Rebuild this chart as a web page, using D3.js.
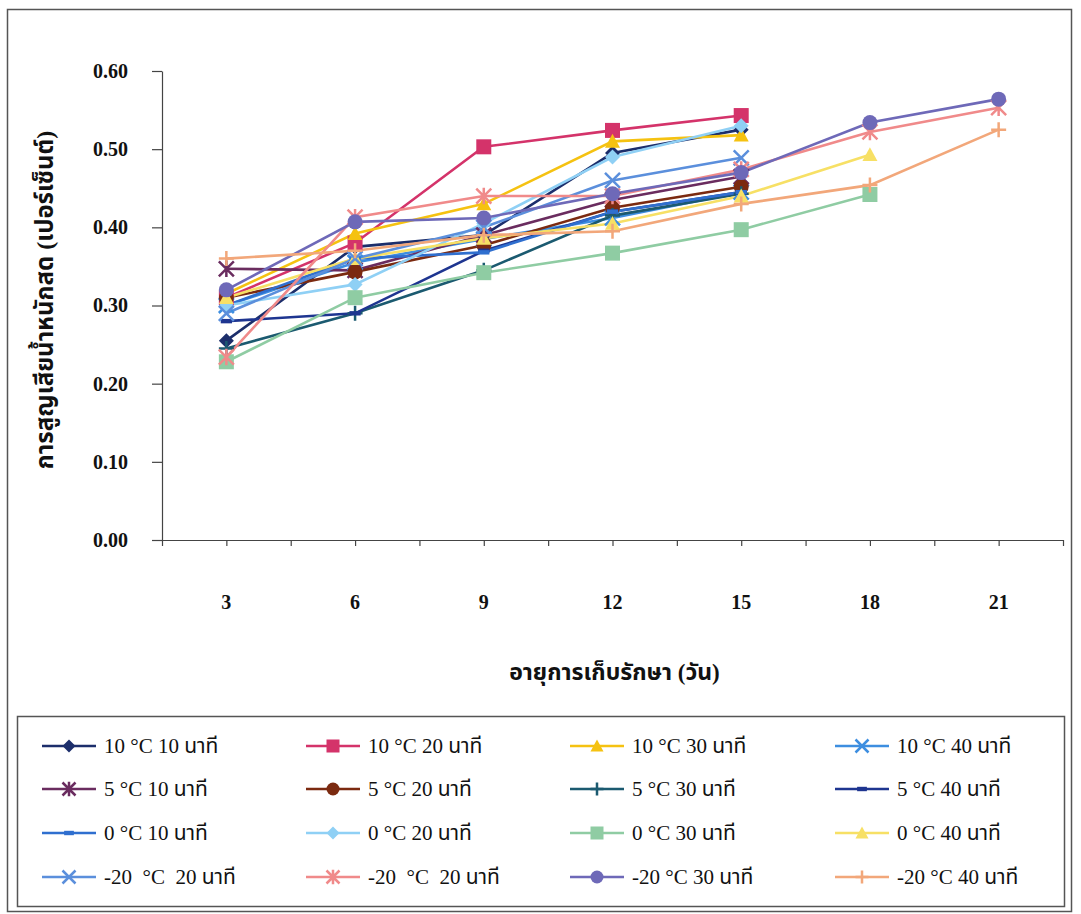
<!DOCTYPE html>
<html>
<head>
<meta charset="utf-8">
<script src="https://cdn.jsdelivr.net/npm/d3@7"></script>
<style>
  html, body { margin: 0; padding: 0; background: #ffffff; }
  svg { display: block; }
  text { font-family: "Liberation Serif", "Noto Sans Thai", "DejaVu Sans", serif; fill: #111; white-space: pre; }
</style>
</head>
<body>
<svg id="chart" width="1081" height="914"></svg>
<script>
// Storage days (categories on the x axis)
const days = ["3", "6", "9", "12", "15", "18", "21"];

// Series names as shown in the legend
const seriesNames = [
  "10 °C 10 นาที", "10 °C 20 นาที", "10 °C 30 นาที", "10 °C 40 นาที",
  "5 °C 10 นาที", "5 °C 20 นาที", "5 °C 30 นาที", "5 °C 40 นาที",
  "0 °C 10 นาที", "0 °C 20 นาที", "0 °C 30 นาที", "0 °C 40 นาที",
  "-20  °C  20 นาที", "-20  °C  20 นาที", "-20 °C 30 นาที", "-20 °C 40 นาที"
];

// Fresh weight loss (%) per series, one value per storage day
const s10c10 = [0.255, 0.375, 0.390, 0.495, 0.525];
const s10c20 = [0.310, 0.380, 0.503, 0.524, 0.543];
const s10c30 = [0.315, 0.392, 0.430, 0.510, 0.518];
const s10c40 = [0.300, 0.355, 0.385, 0.412, 0.445];
const s5c10  = [0.347, 0.345, 0.390, 0.435, 0.465];
const s5c20  = [0.310, 0.343, 0.377, 0.425, 0.452];
const s5c30  = [0.245, 0.290, 0.345, 0.415, 0.443];
const s5c40  = [0.280, 0.290, 0.370, 0.420, 0.445];
const s0c10  = [0.300, 0.360, 0.368, 0.420, 0.445];
const s0c20  = [0.300, 0.327, 0.405, 0.490, 0.530];
const s0c30  = [0.228, 0.310, 0.342, 0.367, 0.397, 0.442];
const s0c40  = [0.310, 0.360, 0.386, 0.405, 0.440, 0.493];
const sm20c20a = [0.290, 0.360, 0.400, 0.460, 0.489];
const sm20c20b = [0.234, 0.413, 0.440, 0.440, 0.474, 0.522, 0.553];
const sm20c30  = [0.320, 0.407, 0.412, 0.443, 0.470, 0.534, 0.564];
const sm20c40  = [0.360, 0.370, 0.390, 0.395, 0.430, 0.454, 0.525];

const seriesValues = [s10c10, s10c20, s10c30, s10c40, s5c10, s5c20, s5c30, s5c40,
                      s0c10, s0c20, s0c30, s0c40, sm20c20a, sm20c20b, sm20c30, sm20c40];

const seriesColors = [
  "#1c2e6b", "#d4336a", "#f5c211", "#3d8ee0",
  "#6a2c5f", "#7b2a10", "#1b5a70", "#1e3590",
  "#2f6fcf", "#8fd0f5", "#8fcca3", "#f7e065",
  "#5b8fdc", "#f08a8a", "#6e69b8", "#f2a77a"
];
const seriesMarkers = [
  "diamond", "square", "triangle", "x",
  "asterisk", "circle", "plus", "dash",
  "dash", "diamond", "square", "triangle",
  "x", "asterisk", "circle", "plus"
];

const yTicks = [0, 0.1, 0.2, 0.3, 0.4, 0.5, 0.6];

const xTitle = "อายุการเก็บรักษา (วัน)";
const yTitle = "การสูญเสียน้ำหนักสด (เปอร์เซ็นต์)";

const svg = d3.select("#chart");

// Outer frame of the chart
svg.append("rect").attr("x", 7.5).attr("y", 9.5).attr("width", 1064).attr("height", 902)
  .attr("fill", "#fff").attr("stroke", "#555").attr("stroke-width", 1.5);

const plot = { left: 162, right: 1063, top: 71, bottom: 540 };

const x = d3.scaleBand().domain(days).range([plot.left, plot.right]).padding(0);
const xCenter = d => x(d) + x.bandwidth() / 2;
const xTickScale = d3.scaleLinear().domain([0, days.length * 2]).range([plot.left, plot.right]);
const y = d3.scaleLinear().domain([0, 0.6]).range([plot.bottom, plot.top]);

// Y axis
const yAxis = svg.append("g").attr("transform", `translate(${plot.left},0)`)
  .call(d3.axisLeft(y).tickValues(yTicks).tickFormat(d3.format(".2f")).tickSize(10).tickPadding(24).tickSizeOuter(0));
yAxis.select(".domain").attr("stroke", "#444").attr("stroke-width", 1.2);
yAxis.selectAll(".tick line").attr("stroke", "#444").attr("stroke-width", 1.2);
yAxis.selectAll(".tick text").attr("font-size", 20).attr("font-weight", "bold")
  .attr("font-family", "Liberation Serif, serif").attr("fill", "#111");

// X axis: tick marks every half category, labels at category centres
const xAxisTicks = svg.append("g").attr("transform", `translate(0,${plot.bottom})`)
  .call(d3.axisBottom(xTickScale).tickValues(d3.range(0, days.length * 2 + 1)).tickFormat("").tickSize(6).tickSizeOuter(0));
xAxisTicks.select(".domain").attr("stroke", "#444").attr("stroke-width", 1.2);
xAxisTicks.selectAll(".tick line").attr("stroke", "#444").attr("stroke-width", 1.2);

const xLabels = svg.append("g").attr("transform", `translate(0,${plot.bottom})`)
  .call(d3.axisBottom(x).tickSize(0).tickPadding(55));
xLabels.select(".domain").remove();
xLabels.selectAll(".tick text").attr("font-size", 20).attr("font-weight", "bold")
  .attr("font-family", "Liberation Serif, serif").attr("fill", "#111");

// Axis titles
svg.append("text").attr("x", (plot.left + plot.right) / 2 + 2).attr("y", 680)
  .attr("text-anchor", "middle").attr("font-size", 23).attr("font-weight", "bold").text(xTitle);
svg.append("text").attr("transform", "translate(53,300) rotate(-90)")
  .attr("text-anchor", "middle").attr("font-size", 24).attr("font-weight", "bold").text(yTitle);

// Marker drawing
function drawMarker(g, type, color, size) {
  const s = size / 2;
  switch (type) {
    case "diamond":
      g.append("path").attr("d", `M0,${-s}L${s},0L0,${s}L${-s},0Z`).attr("fill", color);
      break;
    case "square":
      g.append("rect").attr("x", -s).attr("y", -s).attr("width", size).attr("height", size).attr("fill", color);
      break;
    case "triangle":
      g.append("path").attr("d", `M0,${-s}L${s},${s * 0.85}L${-s},${s * 0.85}Z`).attr("fill", color);
      break;
    case "circle":
      g.append("circle").attr("r", s).attr("fill", color);
      break;
    case "x":
      g.append("path").attr("d", `M${-s},${-s}L${s},${s}M${-s},${s}L${s},${-s}`)
        .attr("stroke", color).attr("stroke-width", 2.5).attr("fill", "none");
      break;
    case "asterisk":
      g.append("path").attr("d", `M${-s},${-s}L${s},${s}M${-s},${s}L${s},${-s}M0,${-s * 1.1}L0,${s * 1.1}`)
        .attr("stroke", color).attr("stroke-width", 2.5).attr("fill", "none");
      break;
    case "plus":
      g.append("path").attr("d", `M${-s},0L${s},0M0,${-s}L0,${s}`)
        .attr("stroke", color).attr("stroke-width", 2.5).attr("fill", "none");
      break;
    case "dash":
      g.append("rect").attr("x", -s * 0.75).attr("y", -2.2).attr("width", s * 1.5).attr("height", 4.4).attr("fill", color);
      break;
  }
}

// Series lines and markers
const line = d3.line().x((d, i) => xCenter(days[i])).y(d => y(d));
const seriesLayer = svg.append("g");
seriesValues.forEach((vals, k) => {
  seriesLayer.append("path").datum(vals).attr("d", line)
    .attr("fill", "none").attr("stroke", seriesColors[k]).attr("stroke-width", 2.6);
});
seriesValues.forEach((vals, k) => {
  vals.forEach((v, i) => {
    const g = seriesLayer.append("g").attr("transform", `translate(${xCenter(days[i])},${y(v)})`);
    drawMarker(g, seriesMarkers[k], seriesColors[k], 15);
  });
});

// Legend box
svg.append("rect").attr("x", 17.5).attr("y", 716.5).attr("width", 1047).attr("height", 190)
  .attr("fill", "#fff").attr("stroke", "#555").attr("stroke-width", 1.5);

const legendCols = [42, 306, 570, 835];
const legendRows = [746, 789, 833, 877];
seriesNames.forEach((name, k) => {
  const cx = legendCols[k % 4], cy = legendRows[Math.floor(k / 4)];
  const g = svg.append("g").attr("transform", `translate(${cx},${cy})`);
  g.append("line").attr("x1", 0).attr("x2", 54).attr("y1", 0).attr("y2", 0)
    .attr("stroke", seriesColors[k]).attr("stroke-width", 2.6);
  const m = g.append("g").attr("transform", "translate(27,0)");
  drawMarker(m, seriesMarkers[k], seriesColors[k], 13);
  g.append("text").attr("x", 62).attr("y", 7).attr("font-size", 21).text(name);
});
</script>
</body>
</html>
